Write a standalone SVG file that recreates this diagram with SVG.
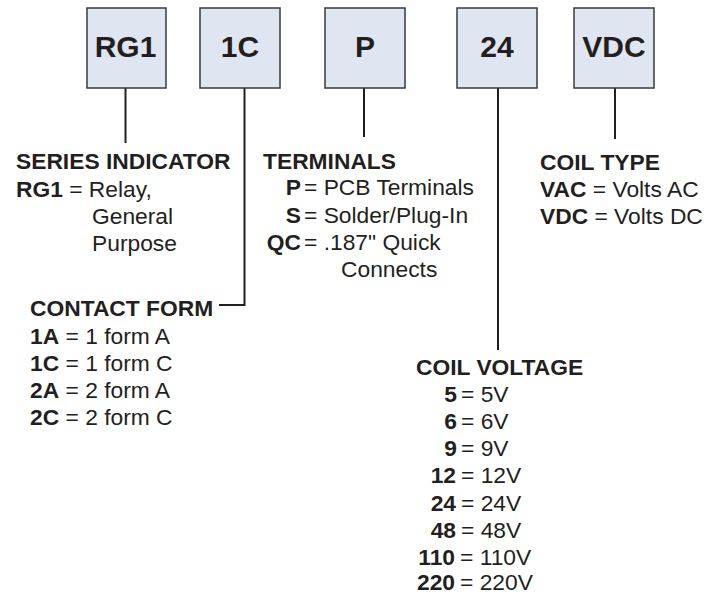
<svg xmlns="http://www.w3.org/2000/svg" width="721" height="593" viewBox="0 0 721 593">
<style>
.box{fill:#dfe6f2;stroke:#3a3a3a;stroke-width:1.5}
.bt{font-family:"Liberation Sans",Arial,sans-serif;font-weight:bold;font-size:30px;fill:#231f20;text-anchor:middle}
.t{font-family:"Liberation Sans",Arial,sans-serif;font-size:22.8px;fill:#231f20}
.b{font-weight:bold}
.e{text-anchor:end}
.con{fill:none;stroke:#231f20;stroke-width:2}
</style>
<rect width="721" height="593" fill="#ffffff"/>
<g id="connectors">
<line class="con" x1="125.5" y1="88" x2="125.5" y2="143"/>
<polyline class="con" points="244.5,88 244.5,305 219,305"/>
<line class="con" x1="364" y1="88" x2="364" y2="137"/>
<line class="con" x1="498" y1="88" x2="498" y2="350"/>
<line class="con" x1="615" y1="88" x2="615" y2="139"/>
</g>
<g id="box-rg1"><rect class="box" x="87" y="8" width="79" height="80"/><text class="bt" x="125.5" y="57">RG1</text></g>
<g id="box-1c"><rect class="box" x="200" y="8" width="80" height="80"/><text class="bt" x="240" y="57">1C</text></g>
<g id="box-p"><rect class="box" x="325" y="8" width="80" height="80"/><text class="bt" x="365" y="57">P</text></g>
<g id="box-24"><rect class="box" x="457" y="8" width="80" height="80"/><text class="bt" x="497" y="57">24</text></g>
<g id="box-vdc"><rect class="box" x="574" y="8" width="80" height="80"/><text class="bt" x="614" y="57">VDC</text></g>
<g id="series-indicator">
<text class="t b" x="16" y="169">SERIES INDICATOR</text>
<text class="t" x="16" y="197"><tspan class="b">RG1</tspan> = Relay,</text>
<text class="t" x="92" y="224">General</text>
<text class="t" x="92" y="251">Purpose</text>
</g>
<g id="terminals">
<text class="t b" x="263" y="169">TERMINALS</text>
<text class="t b e" x="301" y="195">P</text><text class="t" x="304" y="195">= PCB Terminals</text>
<text class="t b e" x="301" y="222.5">S</text><text class="t" x="304" y="222.5">= Solder/Plug-In</text>
<text class="t b e" x="301" y="250">QC</text><text class="t" x="304" y="250">= .187" Quick</text>
<text class="t" x="341" y="277">Connects</text>
</g>
<g id="coil-type">
<text class="t b" x="540" y="170">COIL TYPE</text>
<text class="t" x="540" y="197"><tspan class="b">VAC</tspan> = Volts AC</text>
<text class="t" x="540" y="224"><tspan class="b">VDC</tspan> = Volts DC</text>
</g>
<g id="contact-form">
<text class="t b" x="30" y="316">CONTACT FORM</text>
<text class="t" x="30" y="344"><tspan class="b">1A</tspan> = 1 form A</text>
<text class="t" x="30" y="371"><tspan class="b">1C</tspan> = 1 form C</text>
<text class="t" x="30" y="398"><tspan class="b">2A</tspan> = 2 form A</text>
<text class="t" x="30" y="425"><tspan class="b">2C</tspan> = 2 form C</text>
</g>
<g id="coil-voltage">
<text class="t b" x="416" y="375">COIL VOLTAGE</text>
<text class="t b e" x="457" y="402">5</text><text class="t" x="461" y="402">= 5V</text>
<text class="t b e" x="457" y="429">6</text><text class="t" x="461" y="429">= 6V</text>
<text class="t b e" x="457" y="456">9</text><text class="t" x="461" y="456">= 9V</text>
<text class="t b e" x="456" y="483">12</text><text class="t" x="461" y="483">= 12V</text>
<text class="t b e" x="456" y="510.5">24</text><text class="t" x="461" y="510.5">= 24V</text>
<text class="t b e" x="456" y="537.5">48</text><text class="t" x="461" y="537.5">= 48V</text>
<text class="t b e" x="455" y="564.5">110</text><text class="t" x="460" y="564.5">= 110V</text>
<text class="t b e" x="455" y="590">220</text><text class="t" x="460" y="590">= 220V</text>
</g>
</svg>
